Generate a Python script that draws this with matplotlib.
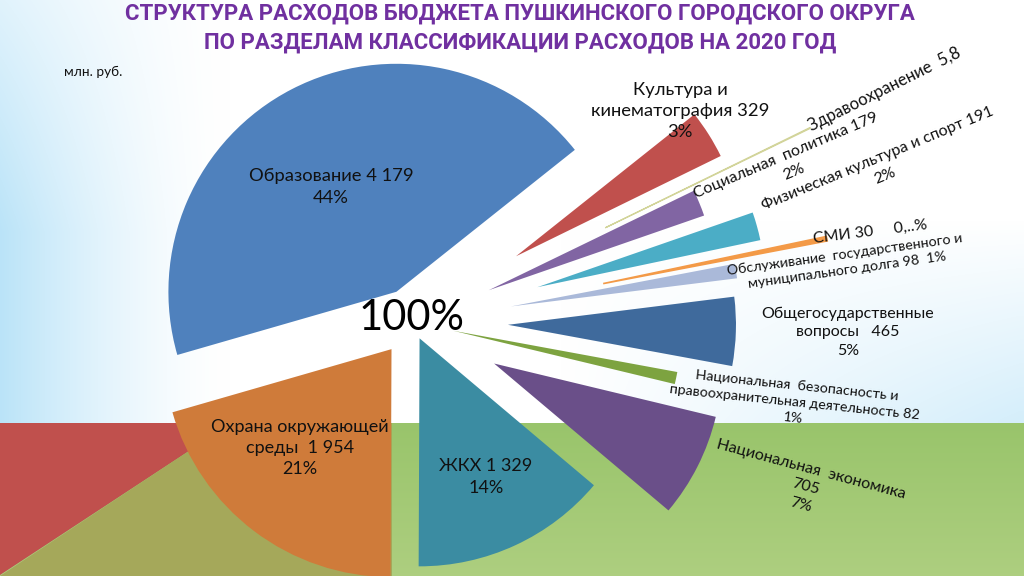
import numpy as np
import matplotlib
matplotlib.use("Agg")
import matplotlib.pyplot as plt
from matplotlib.patches import Polygon

W, H = 1024, 576

# budget sections, in pie order (counter-clockwise from the top-right)
CATEGORIES = [
    "Образование", "Охрана окружающей среды", "ЖКХ", "Национальная экономика",
    "Национальная безопасность", "Общегосударственные вопросы",
    "Обслуживание долга", "СМИ", "Физическая культура и спорт",
    "Социальная политика", "Здравоохранение", "Культура и кинематография",
]
VALUES = [4179, 1954, 1329, 705, 82, 465, 98, 30, 191, 179, 5.8, 329]
LABELS = [
    "Образование 4 179\n44%",
    "Охрана окружающей\nсреды  1 954\n21%",
    "ЖКХ 1 329\n14%",
    "Национальная  экономика\n705\n7%",
    "Национальная  безопасность и\nправоохранительная деятельность 82\n1%",
    "Общегосударственные\nвопросы   465\n5%",
    "Обслуживание  государственного и\nмуниципального долга 98  1%",
    "СМИ 30     0,..%",
    "Физическая культура и спорт 191\n2%",
    "Социальная  политика 179\n2%",
    "Здравоохранение  5,8",
    "Культура и\nкинематография 329\n3%",
]
COLORS = ["#4f81bd", "#cf7b3a", "#3b8ca2", "#6a4f89", "#7da340", "#3f6a9c",
          "#aab9d9", "#f39a47", "#4badc6", "#8165a3", "#d2d49a", "#c0504d"]

# explosion offsets in pixels
EXPLODE = [34, 34, 18, 92, 42, 96, 100, 195, 130, 83, 215, 123]

# label placement: x, y (image pixels), rotation, font size
LABEL_POS = [
    (331, 187, 0, 13.2),
    (300, 448, 0, 13),
    (486, 477, 0, 13),
    (806, 487, -15, 11.5),
    (795, 402, -6, 10.3),
    (848, 332, 0, 11.5),
    (846, 262, 8, 10.3),
    (870, 232, 7, 11.5),
    (881, 167, 22.5, 11.5),
    (790, 164, 23, 11.5),
    (885, 89, 26.5, 12),
    (680, 111, 0, 13.2),
]

fig = plt.figure(figsize=(W / 100, H / 100), dpi=100)
ax = fig.add_axes([0, 0, 1, 1])

# background: pale sky at the top, green field below
yy, xx = np.mgrid[0:H, 0:W]
bg = np.ones((H, W, 3))
left_tint = np.clip(1 - xx / 230.0, 0, 1) ** 1.5 * np.clip(0.45 + yy / 420.0, 0, 1)
sky_tint = np.clip((xx - 560) / 460.0, 0, 1) * np.clip((yy - 220) / 200.0, 0, 1)
tint = np.clip(left_tint * 0.9 + sky_tint * 0.55, 0, 1)
blue = np.array([0.70, 0.88, 0.97])
bg = bg * (1 - tint[..., None]) + blue * tint[..., None]
field = yy >= 423
g_top = np.array([0.60, 0.77, 0.42])
g_bot = np.array([0.68, 0.81, 0.50])
f = np.clip((yy - 423) / 153.0, 0, 1)[..., None]
green = g_top * (1 - f) + g_bot * f
bg[field] = green[field]
ax.imshow(bg, extent=(0, W, 0, H), origin="upper", zorder=0)

ax.add_patch(Polygon([(0, H - 423), (215, H - 423), (195, H - 447), (0, H - 575)],
                     closed=True, color="#c0504d", lw=0, zorder=1))
ax.add_patch(Polygon([(0, 0), (195, H - 447), (392, H - 423), (392, 0)],
                     closed=True, color="#a5a85a", lw=0, zorder=1))

wedges, _ = ax.pie(VALUES, colors=COLORS, explode=EXPLODE, startangle=38.5,
                   counterclock=True, radius=228, center=(412, H - 322),
                   wedgeprops=dict(linewidth=0), frame=True)
for w in wedges:
    w.set_zorder(2)
# hairline slices for the tiny values
wedges[10].set_edgecolor(COLORS[10])
wedges[10].set_linewidth(0.9)
wedges[7].set_edgecolor(COLORS[7])
wedges[7].set_linewidth(1.2)

ax.set_xlim(0, W)
ax.set_ylim(0, H)
ax.set_aspect("equal")
ax.axis("off")

for text, (x, y, rot, size) in zip(LABELS, LABEL_POS):
    ax.text(x, H - y, text, ha="center", va="center", rotation=rot,
            rotation_mode="anchor", fontsize=size, family=["Lato", "DejaVu Sans"],
            color="#111111", linespacing=1.4, zorder=3)

ax.text(412, H - 318, "100%", ha="center", va="center", fontsize=30,
        family=["Lato", "DejaVu Sans"], color="black", zorder=3)
ax.text(93, H - 72, "млн. руб.", ha="center", va="center", fontsize=9.8,
        family=["Lato", "DejaVu Sans"], color="#111111", zorder=3)

ax.text(520, H - 14, "СТРУКТУРА РАСХОДОВ БЮДЖЕТА ПУШКИНСКОГО ГОРОДСКОГО ОКРУГА",
        ha="center", va="center", fontsize=16, fontweight="bold",
        family=["Roboto", "DejaVu Sans"], color="#7030a0", zorder=3)
ax.text(520, H - 43, "ПО РАЗДЕЛАМ КЛАССИФИКАЦИИ РАСХОДОВ НА 2020 ГОД",
        ha="center", va="center", fontsize=16, fontweight="bold",
        family=["Roboto", "DejaVu Sans"], color="#7030a0", zorder=3)

fig.savefig("out.png", dpi=100)
